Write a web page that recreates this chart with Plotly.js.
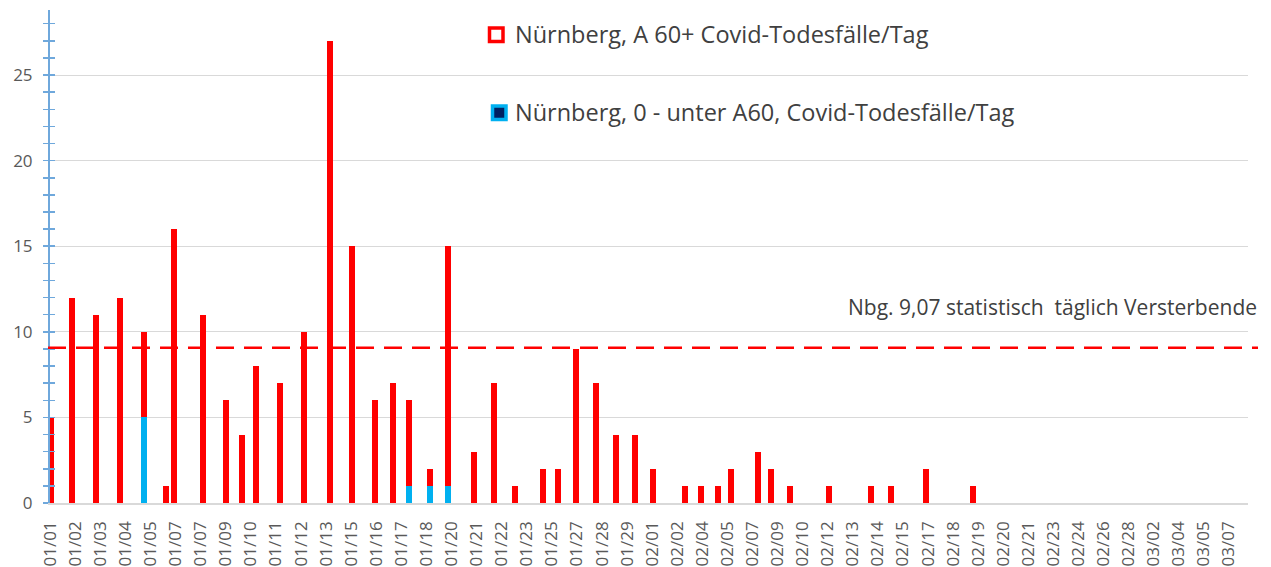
<!DOCTYPE html>
<html>
<head>
<meta charset="utf-8">
<script src="https://cdn.plot.ly/plotly-3.0.1.min.js"></script>
<style>html,body{margin:0;padding:0;background:#fff;}#chart{width:1271px;height:567px;}</style>
</head>
<body>
<div id="chart"></div>
<script>
// ---- data ----
const tickLabels = ["01/01","01/02","01/03","01/04","01/05","01/07","01/07","01/09","01/10","01/11","01/12","01/13","01/15","01/16","01/17","01/18","01/20","01/21","01/22","01/23","01/25","01/27","01/28","01/29","02/01","02/02","02/04","02/05","02/07","02/09","02/10","02/12","02/13","02/14","02/15","02/17","02/18","02/19","02/20","02/21","02/23","02/24","02/26","02/28","03/02","03/04","03/05","03/07"];
// position of each reporting entry on the category scale (1 unit = 1 label)
const slot = [0.04,0.88,1.81,2.79,3.73,4.62,4.95,6.10,7.01,7.64,8.21,9.18,10.11,11.15,12.02,12.95,13.67,14.29,15.13,15.85,16.88,17.70,18.53,19.63,20.23,20.96,21.78,22.55,23.32,24.05,25.30,25.96,26.63,27.16,28.24,28.73,29.49,31.05,32.71,33.53,34.93,36.78];
const a60plus = [5,12,11,12,5,1,16,11,6,4,8,7,10,27,15,6,7,5,1,14,3,7,1,2,2,9,7,4,4,2,1,1,1,2,3,2,1,1,1,1,2,1];
const under60 = [0,0,0,0,5,0,0,0,0,0,0,0,0,0,0,0,0,1,1,1,0,0,0,0,0,0,0,0,0,0,0,0,0,0,0,0,0,0,0,0,0,0];
const avgDaily = 9.07;
const seriesNames = ["Nürnberg, A 60+ Covid-Todesfälle/Tag","Nürnberg, 0 - unter A60, Covid-Todesfälle/Tag"];
const avgLabel = "Nbg. 9,07 statistisch\u00a0 täglich Versterbende";

// ---- layout helpers ----
const W = 1271, H = 567, L = 50, R = 23, T = 10, B = 64;
const pw = W - L - R, ph = H - T - B;
const yMax = 28.8;
const px = p => (p - L) / pw;
const py = p => (H - B - p) / ph;

const RED = "#ff0000", BLUE = "#00b0f0", NAVY = "#002060", AX = "#6fa8dc";
const FONT = "Open Sans, Liberation Sans, sans-serif";

const traces = [
  {type:"bar", x:slot, y:under60, name:seriesNames[1], width:0.24,
   marker:{color:BLUE}, hoverinfo:"skip", showlegend:false},
  {type:"bar", x:slot, y:a60plus, name:seriesNames[0], width:0.24,
   marker:{color:RED}, hoverinfo:"skip", showlegend:false},
  // carrier for the inner half of the crossing y-axis ticks (no marks)
  {type:"scatter", x:[null], y:[null], yaxis:"y2", mode:"markers",
   hoverinfo:"skip", showlegend:false}
];

const layout = {
  width:W, height:H,
  margin:{l:L, r:R, t:T, b:B, pad:0},
  paper_bgcolor:"#fff", plot_bgcolor:"#fff",
  barmode:"stack",
  showlegend:false,
  font:{family:FONT, color:"#595959"},
  xaxis:{
    range:[-0.01, 47.76],
    tickmode:"array",
    tickvals:tickLabels.map((_, i) => i),
    ticktext:tickLabels,
    tickangle:-90,
    ticks:"",
    tickfont:{size:17, color:"#595959", family:FONT},
    ticklabelstandoff:10,
    showgrid:false, zeroline:false,
    showline:true, linecolor:"#d9d9d9", linewidth:1.5
  },
  yaxis:{
    range:[0, yMax],
    tick0:0, dtick:5,
    tickfont:{size:17, color:"#595959", family:FONT},
    ticks:"outside", ticklen:5, tickwidth:1.5, tickcolor:AX,
    minor:{dtick:1, ticks:"outside", ticklen:5, tickwidth:1.5, tickcolor:AX, showgrid:false},
    ticklabelstandoff:7,
    showgrid:true, gridcolor:"#d9d9d9", gridwidth:1,
    zeroline:false,
    showline:true, linecolor:AX, linewidth:2
  },
  yaxis2:{
    overlaying:"y", side:"left", anchor:"x",
    range:[0, yMax], tick0:0, dtick:5,
    ticks:"inside", ticklen:5, tickwidth:1.5, tickcolor:AX,
    minor:{dtick:1, ticks:"inside", ticklen:5, tickwidth:1.5, tickcolor:AX, showgrid:false},
    showticklabels:false, showgrid:false, zeroline:false, showline:false
  },
  shapes:[
    {type:"line", xref:"paper", yref:"paper", x0:px(48), x1:px(1258),
     y0:avgDaily / yMax, y1:avgDaily / yMax,
     line:{color:RED, width:2.5, dash:"18px,10px"}},
    {type:"rect", xref:"paper", yref:"paper", x0:px(489.5), x1:px(503), y0:py(41.5), y1:py(28),
     line:{color:RED, width:3.5}, fillcolor:"#fff"},
    {type:"rect", xref:"paper", yref:"paper", x0:px(492.5), x1:px(506), y0:py(119.5), y1:py(106),
     line:{color:BLUE, width:3.5}, fillcolor:NAVY}
  ],
  annotations:[
    {xref:"paper", yref:"paper", x:px(513), y:py(34), xanchor:"left", yanchor:"middle",
     text:seriesNames[0], showarrow:false, font:{size:23.5, color:"#404040", family:FONT}},
    {xref:"paper", yref:"paper", x:px(513), y:py(112), xanchor:"left", yanchor:"middle",
     text:seriesNames[1], showarrow:false, font:{size:23.5, color:"#404040", family:FONT}},
    {xref:"paper", yref:"paper", x:px(1259), y:py(307), xanchor:"right", yanchor:"middle",
     text:avgLabel, showarrow:false, font:{size:21, color:"#404040", family:FONT}}
  ]
};

Plotly.newPlot("chart", traces, layout, {displayModeBar:false, staticPlot:true});
</script>
</body>
</html>
